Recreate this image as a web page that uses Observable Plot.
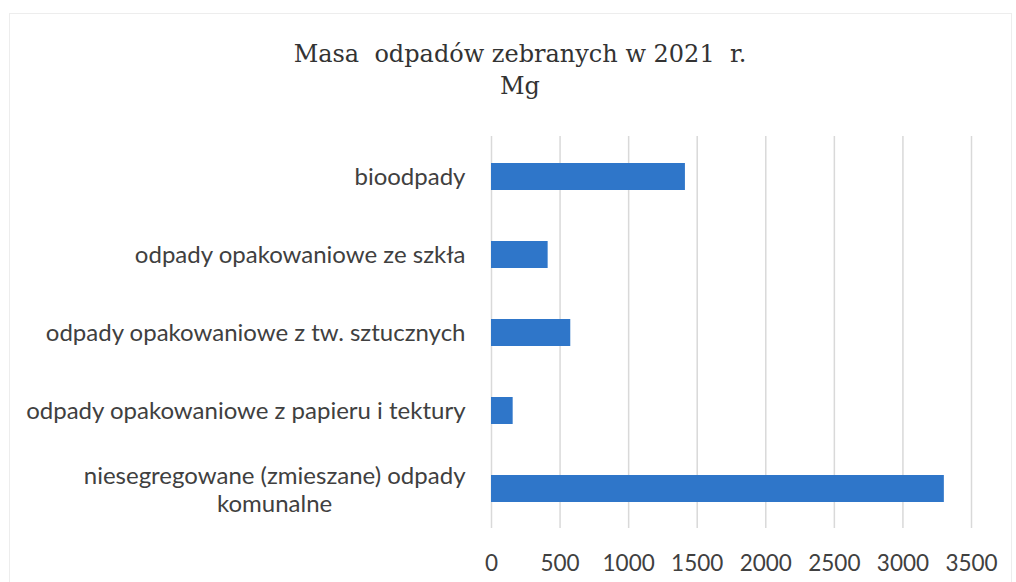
<!DOCTYPE html>
<html>
<head>
<meta charset="utf-8">
<script src="https://cdn.jsdelivr.net/npm/d3@7"></script>
<script src="https://cdn.jsdelivr.net/npm/@observablehq/plot@0.6"></script>
<style>
  html, body { margin: 0; padding: 0; background: #fff; }
  #wrap { position: relative; width: 1016px; height: 582px; overflow: hidden; background: #fff; }
  #frame { position: absolute; left: 9px; top: 13px; width: 1003px; height: 580px; border: 1px solid #ededed; box-sizing: border-box; }
  #title { position: absolute; left: 0; top: 38px; width: 1040px; text-align: center; white-space: pre;
           font-family: "DejaVu Serif", "Liberation Serif", serif; font-size: 24px; line-height: 32px;
           color: #333333; }
  #chart { position: absolute; left: 0; top: 110px; }
</style>
</head>
<body>
<div id="wrap">
  <div id="frame"></div>
  <div id="title"></div>
  <div id="chart"></div>
</div>
<script>
const titleLines = ["Masa  odpadów zebranych w 2021  r.", "Mg"];
const categories = [
  "bioodpady",
  "odpady opakowaniowe ze szkła",
  "odpady opakowaniowe z tw. sztucznych",
  "odpady opakowaniowe z papieru i tektury",
  "niesegregowane (zmieszane) odpady\nkomunalne"
];
const values = [1414, 413, 578, 158, 3302];
const xTicks = [0, 500, 1000, 1500, 2000, 2500, 3000, 3500];

const data = categories.map((c, i) => ({category: c, value: values[i]}));

document.getElementById("title").textContent = titleLines.join("\n");

const labelFont = "Lato, 'Open Sans', sans-serif";
const labelSize = 24;
const tickSize = 22.5;
const labelColor = "#404040";
const padLeft = 26;

// measure widest line of multi-line labels so they can be centred as a block
const ctx = document.createElement("canvas").getContext("2d");
ctx.font = `${labelSize}px Lato`;
const multi = data.filter(d => d.category.includes("\n"));
const single = categories.filter(c => !c.includes("\n"));
const blockWidth = c => Math.max(...c.split("\n").map(s => ctx.measureText(s).width));

const marks = [
  Plot.gridX(xTicks, {stroke: "#d9d9d9", strokeOpacity: 1, strokeWidth: 1.5}),
  Plot.barX(data, {x: "value", y: "category", fill: "#2f76c9"}),
  Plot.axisX(xTicks, {tickSize: 0, tickPadding: 27, fontSize: tickSize, fill: labelColor, fontFamily: labelFont, label: null, tickFormat: d => String(d)}),
  Plot.axisY(single, {tickSize: 0, tickPadding: padLeft, fontSize: labelSize, fill: labelColor, fontFamily: labelFont, label: null}),
  ...multi.map(d => Plot.text([d], {
    y: "category", text: "category", frameAnchor: "left",
    textAnchor: "middle", lineAnchor: "middle", lineHeight: 1.15,
    dx: -(padLeft + blockWidth(d.category) / 2),
    fontSize: labelSize, fill: labelColor, fontFamily: labelFont
  }))
];

const chart = Plot.plot({
  width: 1016,
  height: 472,
  marginLeft: 491,
  marginRight: 45,
  marginTop: 26,
  marginBottom: 54,
  style: {background: "transparent", fontFamily: labelFont},
  x: {domain: [0, 3500], axis: null},
  y: {domain: categories, paddingInner: 0.66, paddingOuter: 0.33, axis: null},
  marks
});
document.getElementById("chart").appendChild(chart);
</script>
</body>
</html>
